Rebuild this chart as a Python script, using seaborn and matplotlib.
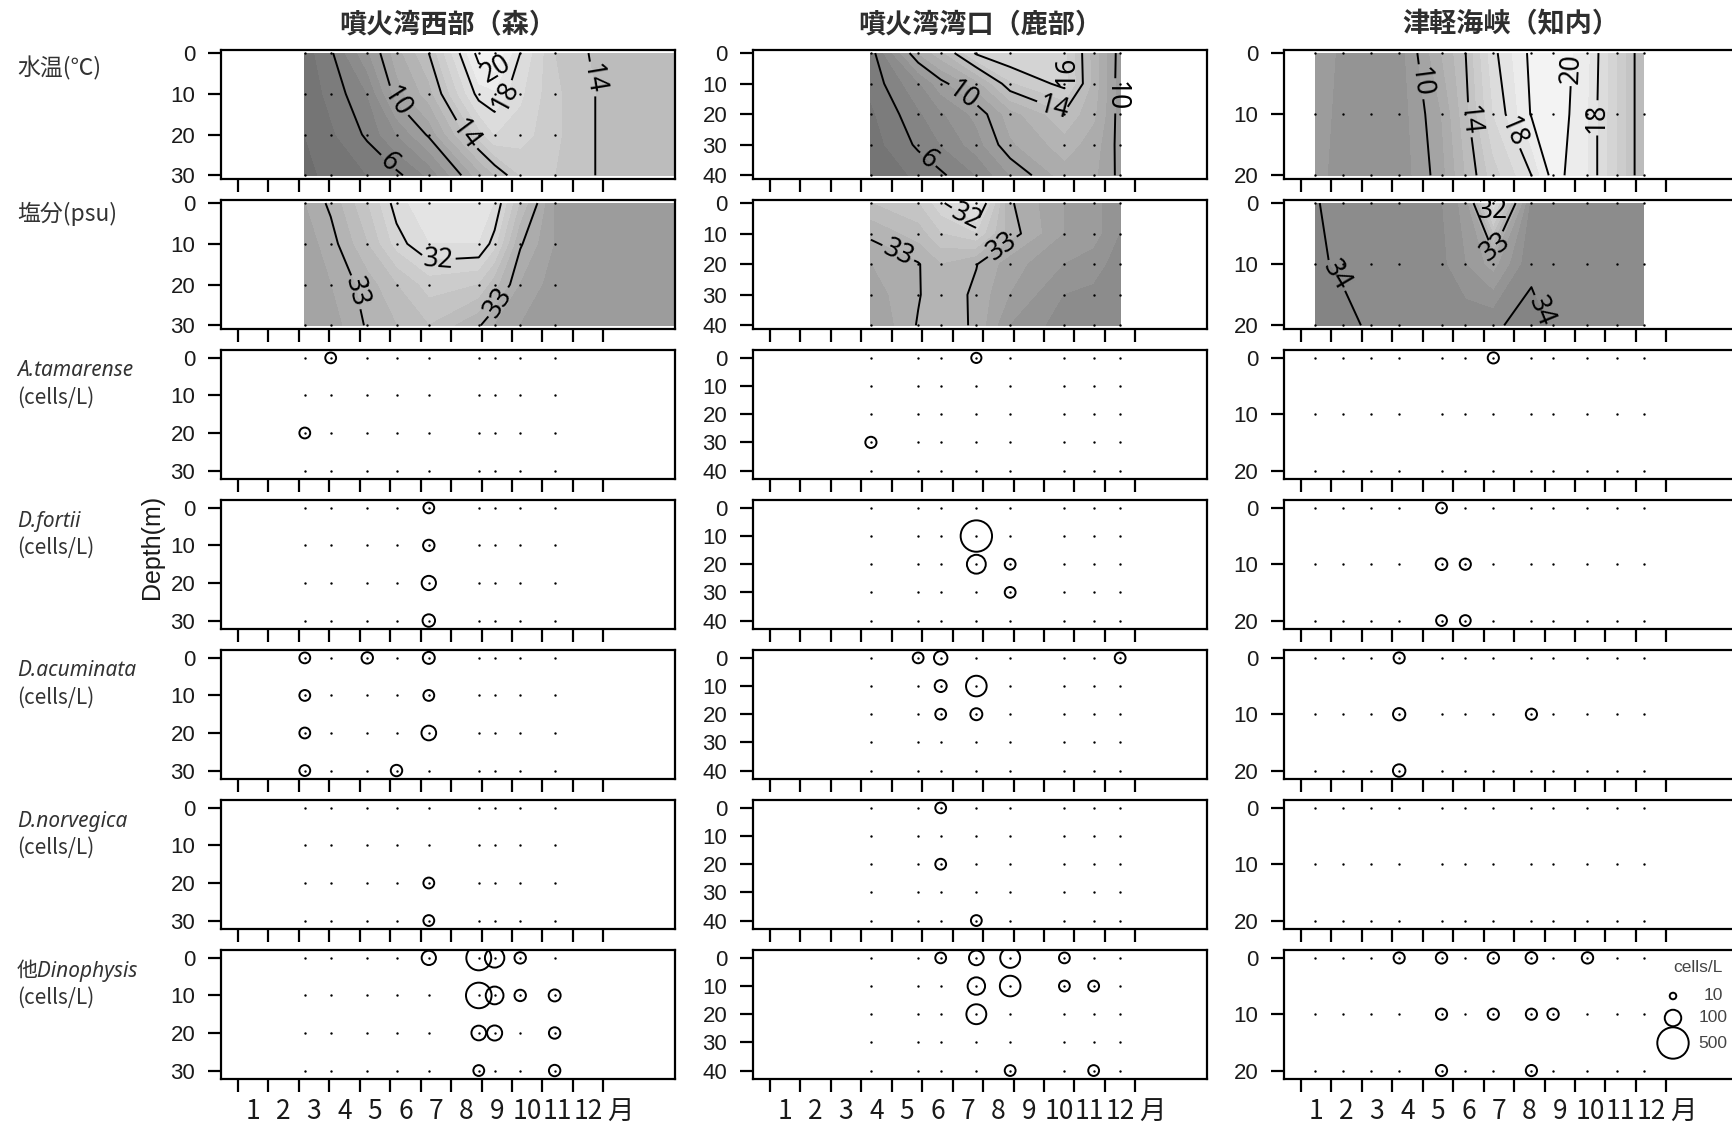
import numpy as np
import pandas as pd
import matplotlib
matplotlib.use("Agg")
import matplotlib.pyplot as plt
import seaborn as sns
from matplotlib.colors import ListedColormap, Normalize

# ---------------- text ----------------
STATION_TITLES = ["噴火湾西部（森）", "噴火湾湾口（鹿部）", "津軽海峡（知内）"]
MONTH_TICK_LABELS = ["1", "2", "3", "4", "5", "6", "7", "8", "9", "10", "11", "12", "月"]
ROW_LABELS = ["水温(℃)", "塩分(psu)", "A.tamarense", "D.fortii", "D.acuminata",
              "D.norvegica", "他Dinophysis"]
UNIT_LABEL = "(cells/L)"
DEPTH_LABEL = "Depth(m)"
LEGEND_TITLE = "cells/L"
LEGEND_VALUES = [10, 100, 500]

# ---------------- 森 (Mori) ----------------
MORI_MONTHS = [2.20, 3.05, 4.25, 5.21, 6.27, 7.91, 8.43, 9.27, 10.40]
MORI_DEPTHS = [0, 10, 20, 30]
MORI_GRID_MONTHS = [2.20, 3.05, 4.25, 5.21, 6.27, 7.91, 8.43, 9.27, 10.40, 12.40, 14.38]
MORI_TEMP = [
    [4.5, 5.8, 8.8, 11.5, 14.0, 20.5, 21.0, 18.0, 15.0, 13.2, 13.0],
    [4.3, 5.3, 7.0, 10.5, 12.5, 18.5, 18.8, 17.2, 15.2, 13.4, 13.0],
    [4.0, 4.8, 6.2, 8.0, 10.2, 15.5, 17.0, 16.5, 15.2, 13.4, 13.2],
    [3.8, 4.2, 5.0, 5.7, 7.2, 11.5, 13.0, 15.0, 15.0, 13.5, 13.3],
]
MORI_SAL = [
    [33.2, 32.95, 32.4, 31.9, 31.6, 31.6, 31.8, 32.6, 33.4, 33.5, 33.5],
    [33.3, 33.1, 32.6, 32.1, 31.8, 31.8, 32.1, 32.97, 33.4, 33.5, 33.5],
    [33.4, 33.2, 32.9, 32.6, 32.3, 32.4, 32.7, 33.2, 33.5, 33.5, 33.5],
    [33.4, 33.3, 32.97, 32.8, 32.6, 32.97, 33.2, 33.4, 33.5, 33.5, 33.6],
]
MORI_TEMP_LEVELS = [6, 10, 14, 18, 20]
MORI_SAL_LEVELS = [32, 33]
MORI_ATAM = [(3.05, 0, 35), (2.20, 20, 35)]
MORI_DFOR = [(6.27, 0, 35), (6.27, 10, 40), (6.27, 20, 70), (6.27, 30, 50)]
MORI_DACU = [(2.20, 0, 35), (2.20, 10, 35), (2.20, 20, 35), (2.20, 30, 35), (4.25, 0, 40),
             (6.27, 0, 45), (6.27, 10, 35), (6.27, 20, 75), (5.21, 30, 40)]
MORI_DNOR = [(6.27, 20, 35), (6.27, 30, 35)]
MORI_DOTH = [(6.27, 0, 70), (7.91, 0, 280), (8.43, 0, 150), (9.27, 0, 40),
             (7.91, 10, 300), (8.43, 10, 120), (9.27, 10, 40), (10.40, 10, 45),
             (7.91, 20, 75), (8.43, 20, 80), (10.40, 20, 40),
             (7.91, 30, 35), (10.40, 30, 40)]

# ---------------- 鹿部 (Shikabe) ----------------
SHIK_MONTHS = [3.32, 4.87, 5.61, 6.78, 7.89, 9.67, 10.63, 11.50]
SHIK_DEPTHS = [0, 10, 20, 30, 40]
SHIK_GRID_MONTHS = SHIK_MONTHS
SHIK_TEMP = [
    [5.5, 11.0, 12.6, 16.2, 17.0, 16.3, 12.5, 9.5],
    [5.3, 7.8, 9.6, 11.5, 14.8, 16.4, 12.6, 9.4],
    [4.8, 6.8, 7.8, 9.3, 11.5, 13.8, 12.2, 9.5],
    [4.5, 6.2, 7.0, 8.5, 10.8, 12.5, 11.5, 9.6],
    [4.2, 5.2, 5.8, 7.0, 9.0, 11.5, 11.2, 9.7],
]
SHIK_SAL = [
    [32.6, 32.4, 32.05, 31.6, 32.97, 33.4, 33.5, 33.8],
    [32.95, 32.7, 32.4, 32.2, 32.9, 33.4, 33.5, 33.8],
    [33.2, 33.02, 32.8, 32.99, 33.3, 33.6, 33.7, 33.9],
    [33.3, 33.02, 32.85, 33.05, 33.4, 33.8, 33.85, 33.95],
    [33.4, 32.98, 32.9, 33.03, 33.6, 33.9, 33.9, 33.95],
]
SHIK_TEMP_LEVELS = [6, 10, 14, 16]
SHIK_SAL_LEVELS = [32, 33]
SHIK_ATAM = [(6.78, 0, 30), (3.32, 30, 38)]
SHIK_DFOR = [(6.78, 10, 520), (6.78, 20, 140), (7.89, 20, 35), (7.89, 30, 35)]
SHIK_DACU = [(4.87, 0, 35), (5.61, 0, 60), (11.50, 0, 35), (5.61, 10, 45), (6.78, 10, 175),
             (5.61, 20, 35), (6.78, 20, 45)]
SHIK_DNOR = [(5.61, 0, 35), (5.61, 20, 35), (6.78, 40, 35)]
SHIK_DOTH = [(5.61, 0, 35), (6.78, 0, 75), (7.89, 0, 160), (9.67, 0, 35),
             (6.78, 10, 115), (7.89, 10, 175), (9.67, 10, 35), (10.63, 10, 35),
             (6.78, 20, 160), (7.89, 40, 35), (10.63, 40, 35)]

# ---------------- 知内 (Shiriuchi) ----------------
SHIR_MONTHS = [0.47, 1.40, 2.32, 3.23, 4.62, 5.40, 6.32, 7.57, 8.28, 9.41, 10.37, 11.25]
SHIR_DEPTHS = [0, 10, 20]
SHIR_GRID_MONTHS = SHIR_MONTHS
SHIR_TEMP = [
    [9.5, 8.8, 8.2, 8.5, 12.0, 13.95, 17.7, 20.3, 21.0, 19.2, 16.0, 13.0],
    [9.4, 8.7, 8.1, 8.4, 11.0, 13.6, 17.0, 20.1, 20.9, 19.0, 16.0, 13.0],
    [9.3, 8.6, 8.0, 8.3, 10.6, 13.0, 15.5, 18.0, 20.5, 19.0, 16.0, 13.0],
]
SHIR_SAL = [
    [34.01, 33.95, 33.93, 33.9, 33.8, 33.5, 31.8, 33.85, 33.9, 33.93, 33.95, 33.95],
    [34.03, 33.97, 33.95, 33.9, 33.85, 33.6, 33.3, 33.97, 33.95, 33.93, 33.95, 33.95],
    [34.1, 34.05, 33.97, 33.95, 33.93, 33.95, 33.98, 34.05, 33.98, 33.95, 33.95, 33.95],
]
SHIR_TEMP_LEVELS = [10, 14, 18, 20]
SHIR_SAL_LEVELS = [32, 33, 34]
SHIR_ATAM = [(6.32, 0, 38)]
SHIR_DFOR = [(4.62, 0, 35), (4.62, 10, 42), (5.40, 10, 38), (4.62, 20, 35), (5.40, 20, 35)]
SHIR_DACU = [(3.23, 0, 38), (3.23, 10, 48), (7.57, 10, 38), (3.23, 20, 50)]
SHIR_DNOR = []
SHIR_DOTH = [(3.23, 0, 38), (4.62, 0, 40), (6.32, 0, 40), (7.57, 0, 42), (9.41, 0, 40),
             (4.62, 10, 38), (6.32, 10, 38), (7.57, 10, 38), (8.28, 10, 40),
             (4.62, 20, 38), (7.57, 20, 38)]

# contour label anchor positions (layout)
MORI_TEMP_LABEL_AT = [(4.94, 26.8), (5.21, 12), (7.44, 20.4), (8.66, 10), (8.4, 3.6), (11.3, 6.8)]
MORI_SAL_LABEL_AT = [(6.58, 15), (3.8, 22), (8.49, 24)]
SHIK_TEMP_LABEL_AT = [(5.17, 35), (6.43, 12.7), (9.26, 19.3), (9.8, 5.7), (11.3, 14)]
SHIK_SAL_LABEL_AT = [(6.4, 5.6), (4.23, 16), (7.61, 14)]
SHIR_TEMP_LABEL_AT = [(3.94, 4.7), (5.41, 11), (6.94, 13), (8.8, 2.5), (9.83, 10.6)]
SHIR_SAL_LABEL_AT = [(1.22, 11.7), (6.3, 1.7), (6.5, 7.5), (8.3, 16.9)]

# ---------------- style ----------------
sns.set_theme(style="ticks")
plt.rcParams["font.family"] = ["Liberation Sans", "Noto Sans CJK JP", "DejaVu Sans"]
plt.rcParams["axes.unicode_minus"] = False

W, H = 1733, 1123
fig = plt.figure(figsize=(W / 100, H / 100), dpi=100)
fig.patch.set_facecolor("white")

COL_LEFT = [221, 753, 1284]
AX_W = 454
ROW_TOP0 = 50
ROW_STEP = 150
AX_H = 129
XLIM = (-0.55, 14.35)

TEMP_CMAP = ListedColormap(np.repeat(np.linspace(0.38, 1.0, 256)[:, None], 3, axis=1))
TEMP_NORM = Normalize(2, 22)
TEMP_FILL = np.arange(2, 23, 1.0)
SAL_CMAP = ListedColormap(np.repeat(np.linspace(1.0, 0.38, 256)[:, None], 3, axis=1))
SAL_NORM = Normalize(31, 35)
SAL_FILL = np.arange(31, 35.01, 0.2)

S500 = 511.0


def bubble_area(v):
    return S500 * (np.asarray(v, float) / 500.0) ** 0.8


def add_ax(ci, ri):
    top = ROW_TOP0 + ri * ROW_STEP
    return fig.add_axes([COL_LEFT[ci] / W, 1 - (top + AX_H) / H, AX_W / W, AX_H / H])


def style_ax(ax, dmax, contour):
    ax.set_xlim(*XLIM)
    if contour:
        ax.set_ylim(dmax * 1.03, -dmax * 0.025)
    else:
        ax.set_ylim(dmax * 1.075, -dmax * 0.07)
    ax.set_xticks(range(13))
    ax.set_xticklabels([])
    ax.set_yticks(range(0, dmax + 1, 10))
    ax.set_yticklabels([str(v) for v in range(0, dmax + 1, 10)])
    ax.tick_params(axis="both", which="major", direction="out", length=9.5, width=1.6,
                   color="black", bottom=True, left=True, top=False, right=False)
    ax.tick_params(axis="y", labelsize=16, pad=9, labelcolor="#1a1a1a")
    ax.set_xlabel("")
    ax.set_ylabel("")
    for sp in ax.spines.values():
        sp.set_visible(True)
        sp.set_linewidth(1.6)
        sp.set_color("black")


def dots(ax, months, depths):
    grid = pd.DataFrame([(m, d) for d in depths for m in months], columns=["month", "depth"])
    sns.scatterplot(data=grid, x="month", y="depth", s=3, color="black", linewidth=0,
                    ax=ax, legend=False, zorder=3)


def contour_panel(ax, gx, months, depths, values, kind, levels, label_at):
    dmax = depths[-1]
    style_ax(ax, dmax, True)
    X, Y = np.meshgrid(gx, depths)
    Z = np.array(values, float)
    if kind == "T":
        cmap, norm, fl = TEMP_CMAP, TEMP_NORM, TEMP_FILL
    else:
        cmap, norm, fl = SAL_CMAP, SAL_NORM, SAL_FILL
    ax.contourf(X, Y, Z, levels=fl, cmap=cmap, norm=norm, extend="both", zorder=1)
    cs = ax.contour(X, Y, Z, levels=levels, colors="black", linewidths=1.4, zorder=2)
    ax.clabel(cs, fmt="%d", fontsize=19, inline=True, inline_spacing=3, manual=label_at)
    for t in cs.labelTexts:
        t.set_family(["Noto Sans", "DejaVu Sans"])
        t.set_fontsize(19)
    dots(ax, months, depths)
    style_ax(ax, dmax, True)


def plankton_panel(ax, months, depths, records):
    dmax = depths[-1]
    style_ax(ax, dmax, False)
    dots(ax, months, depths)
    if records:
        df = pd.DataFrame(records, columns=["month", "depth", "cells"])
        df["area"] = df["cells"] ** 0.8
        sns.scatterplot(data=df, x="month", y="depth", size="area",
                        sizes=(0, S500), size_norm=(0, 500 ** 0.8),
                        facecolor="none", edgecolor="black", linewidth=1.4,
                        legend=False, ax=ax, zorder=4)
    style_ax(ax, dmax, False)


stations = [
    (MORI_GRID_MONTHS, MORI_MONTHS, MORI_DEPTHS, MORI_TEMP, MORI_SAL, MORI_TEMP_LEVELS,
     MORI_SAL_LEVELS, MORI_TEMP_LABEL_AT, MORI_SAL_LABEL_AT,
     [MORI_ATAM, MORI_DFOR, MORI_DACU, MORI_DNOR, MORI_DOTH]),
    (SHIK_GRID_MONTHS, SHIK_MONTHS, SHIK_DEPTHS, SHIK_TEMP, SHIK_SAL, SHIK_TEMP_LEVELS,
     SHIK_SAL_LEVELS, SHIK_TEMP_LABEL_AT, SHIK_SAL_LABEL_AT,
     [SHIK_ATAM, SHIK_DFOR, SHIK_DACU, SHIK_DNOR, SHIK_DOTH]),
    (SHIR_GRID_MONTHS, SHIR_MONTHS, SHIR_DEPTHS, SHIR_TEMP, SHIR_SAL, SHIR_TEMP_LEVELS,
     SHIR_SAL_LEVELS, SHIR_TEMP_LABEL_AT, SHIR_SAL_LABEL_AT,
     [SHIR_ATAM, SHIR_DFOR, SHIR_DACU, SHIR_DNOR, SHIR_DOTH]),
]

last_ax = None
for ci, (gx, months, depths, temp, sal, tl, sl, tla, sla, species) in enumerate(stations):
    ax = add_ax(ci, 0)
    contour_panel(ax, gx, months, depths, temp, "T", tl, tla)
    ax = add_ax(ci, 1)
    contour_panel(ax, gx, months, depths, sal, "S", sl, sla)
    for k, rec in enumerate(species):
        ax = add_ax(ci, 2 + k)
        plankton_panel(ax, months, depths, rec)
    # month labels on the bottom row
    ax.set_xticks(list(np.arange(12) + 0.5) + [12.55], minor=True)
    ax.set_xticklabels(MONTH_TICK_LABELS, minor=True)
    ax.tick_params(axis="x", which="minor", length=0, pad=14, labelsize=19,
                   labelbottom=True, labelcolor="#1a1a1a")
    for t in ax.get_xticklabels(minor=True):
        t.set_family(["Noto Sans CJK JP", "DejaVu Sans"])
    # station title
    fig.text((COL_LEFT[ci] + AX_W / 2) / W, 1 - 24 / H, STATION_TITLES[ci],
             ha="center", va="center", fontsize=19.5, fontweight="bold",
             family=["Noto Sans CJK JP", "DejaVu Sans"], color="#2e2e2e")
    last_ax = ax

# row labels
fig.text(17 / W, 1 - 68 / H, ROW_LABELS[0], ha="left", va="center", fontsize=16.5,
         family=["Noto Sans CJK JP", "DejaVu Sans"], color="#333333")
fig.text(17 / W, 1 - 214 / H, ROW_LABELS[1], ha="left", va="center", fontsize=16.5,
         family=["Noto Sans CJK JP", "DejaVu Sans"], color="#333333")
for r in range(2, 7):
    top = ROW_TOP0 + r * ROW_STEP
    fig.text(17 / W, 1 - (top + 21) / H, ROW_LABELS[r], ha="left", va="center",
             fontsize=15, style="italic", family=["Noto Sans", "Noto Sans CJK JP"],
             color="#333333")
    fig.text(17 / W, 1 - (top + 48) / H, UNIT_LABEL, ha="left", va="center",
             fontsize=15, family=["Noto Sans CJK JP", "DejaVu Sans"], color="#333333")

fig.text(152 / W, 1 - 547 / H, DEPTH_LABEL, rotation=90, ha="center", va="center",
         fontsize=18, color="#1a1a1a")

# size legend (in bottom-right panel)
fig.text(1698 / W, 1 - 968 / H, LEGEND_TITLE, ha="center", va="center", fontsize=12.5,
         color="#444444")
leg_y = [996, 1018, 1043]
for v, yy in zip(LEGEND_VALUES, leg_y):
    last_ax.scatter([1673 / W], [1 - yy / H], s=bubble_area(v), facecolor="none",
                    edgecolor="black", linewidth=1.4, transform=fig.transFigure,
                    clip_on=False, zorder=5)
    fig.text(1713 / W, 1 - yy / H, str(v), ha="center", va="center", fontsize=12.5,
             color="#444444")

fig.savefig("out.png", dpi=100, facecolor="white")
